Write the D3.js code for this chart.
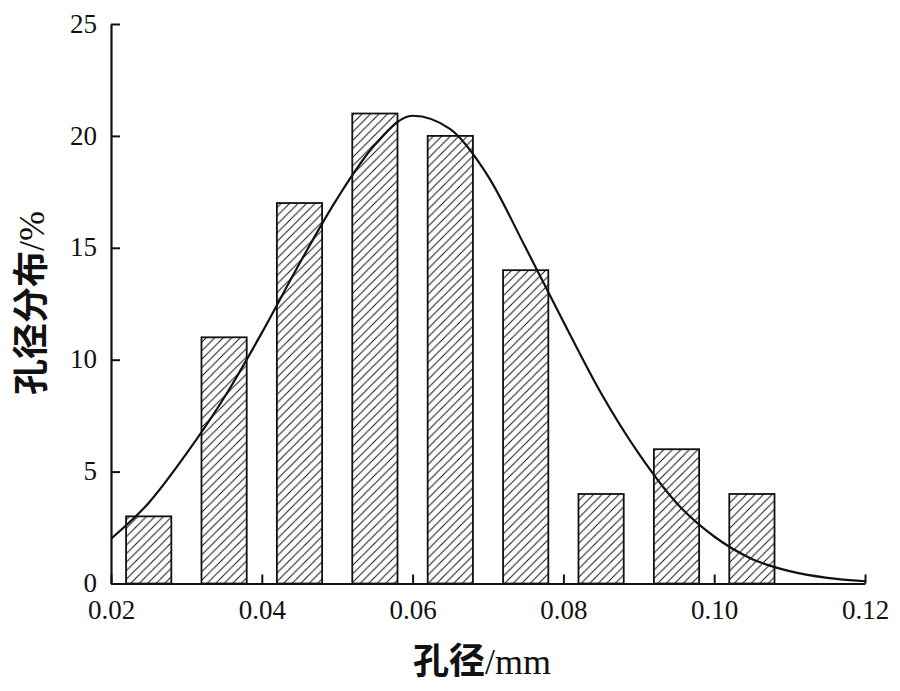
<!DOCTYPE html>
<html>
<head>
<meta charset="utf-8">
<script src="https://cdn.jsdelivr.net/npm/d3@7"></script>
<style>
  body { margin: 0; background: #fff; }
  text { font-family: "Liberation Serif", "Times New Roman", serif; fill: #111; }
  .cjk { font-family: "Noto Sans CJK SC", sans-serif; }
</style>
</head>
<body>
<div id="chart"></div>
<script>
// histogram bins (bin centres, mm) and share of pores (%)
const binCenters = [0.025, 0.035, 0.045, 0.055, 0.065, 0.075, 0.085, 0.095, 0.105];
const binValues = [3, 11, 17, 21, 20, 14, 4, 6, 4];
const binWidth = 0.006;

// fitted curve, every 0.005 mm
const curveX = [0.020, 0.025, 0.030, 0.035, 0.040, 0.045, 0.050, 0.055, 0.060, 0.065, 0.070,
  0.075, 0.080, 0.085, 0.090, 0.095, 0.100, 0.105, 0.110, 0.115, 0.120];
const curveY = [2.0, 3.6, 5.8, 8.3, 11.2, 14.3, 17.2, 19.6, 20.9, 20.3, 18.2,
  15.0, 11.7, 8.5, 5.8, 3.6, 2.1, 1.1, 0.55, 0.25, 0.1];

const xTicks = [0.02, 0.04, 0.06, 0.08, 0.10, 0.12];
const yTicks = [0, 5, 10, 15, 20, 25];

const width = 900, height = 691;
const margin = { left: 111, right: 35, top: 24, bottom: 107.5 };

const svg = d3.select('#chart').append('svg')
  .attr('width', width)
  .attr('height', height);

// hatch fill for the bars
svg.append('defs').append('pattern')
  .attr('id', 'hatch')
  .attr('patternUnits', 'userSpaceOnUse')
  .attr('width', 8.5).attr('height', 8.5)
  .append('path')
  .attr('d', 'M-2,2 l4,-4 M0,8.5 l8.5,-8.5 M6.5,10.5 l4,-4')
  .attr('stroke', '#111')
  .attr('stroke-width', 1);

const x = d3.scaleLinear()
  .domain([0.02, 0.12])
  .range([margin.left, width - margin.right]);

const y = d3.scaleLinear()
  .domain([0, 25])
  .range([height - margin.bottom, margin.top]);

// bars
svg.selectAll('rect.bar')
  .data(binCenters)
  .enter()
  .append('rect')
  .attr('class', 'bar')
  .attr('x', d => x(d - binWidth / 2))
  .attr('width', d => x(d + binWidth / 2) - x(d - binWidth / 2))
  .attr('y', (d, i) => y(binValues[i]))
  .attr('height', (d, i) => y(0) - y(binValues[i]))
  .attr('fill', 'url(#hatch)')
  .attr('stroke', '#111')
  .attr('stroke-width', 1.8);

// fitted curve
const line = d3.line()
  .x(d => x(d[0]))
  .y(d => y(d[1]))
  .curve(d3.curveMonotoneX);

svg.append('path')
  .datum(curveX.map((v, i) => [v, curveY[i]]))
  .attr('d', line)
  .attr('fill', 'none')
  .attr('stroke', '#111')
  .attr('stroke-width', 2.2);

// axes, ticks pointing inwards
const xAxis = svg.append('g')
  .attr('transform', `translate(0,${y(0)})`)
  .call(d3.axisBottom(x).tickValues(xTicks).tickSizeInner(-9).tickSizeOuter(0)
    .tickPadding(22).tickFormat(d3.format('.2f')));

const yAxis = svg.append('g')
  .attr('transform', `translate(${x(0.02)},0)`)
  .call(d3.axisLeft(y).tickValues(yTicks).tickSizeInner(-9).tickSizeOuter(0)
    .tickPadding(14));

[xAxis, yAxis].forEach(g => {
  g.select('.domain').attr('stroke', '#111').attr('stroke-width', 2.2);
  g.selectAll('.tick line').attr('stroke', '#111').attr('stroke-width', 2);
  g.selectAll('.tick text')
    .style('font-family', '"Liberation Serif", serif')
    .style('font-size', '27px')
    .attr('fill', '#111');
});
xAxis.selectAll('.tick text').attr('dy', '0.5em');
yAxis.selectAll('.tick text').attr('dy', '0.3em');

// axis titles
svg.append('text')
  .attr('x', 482)
  .attr('y', 674)
  .attr('text-anchor', 'middle')
  .style('font-size', '36px')
  .html('<tspan class="cjk" font-weight="bold">孔径</tspan><tspan>/mm</tspan>');

svg.append('text')
  .attr('transform', 'translate(44,303) rotate(-90)')
  .attr('text-anchor', 'middle')
  .style('font-size', '36px')
  .html('<tspan class="cjk" font-weight="bold">孔径分布</tspan><tspan>/%</tspan>');
</script>
</body>
</html>
